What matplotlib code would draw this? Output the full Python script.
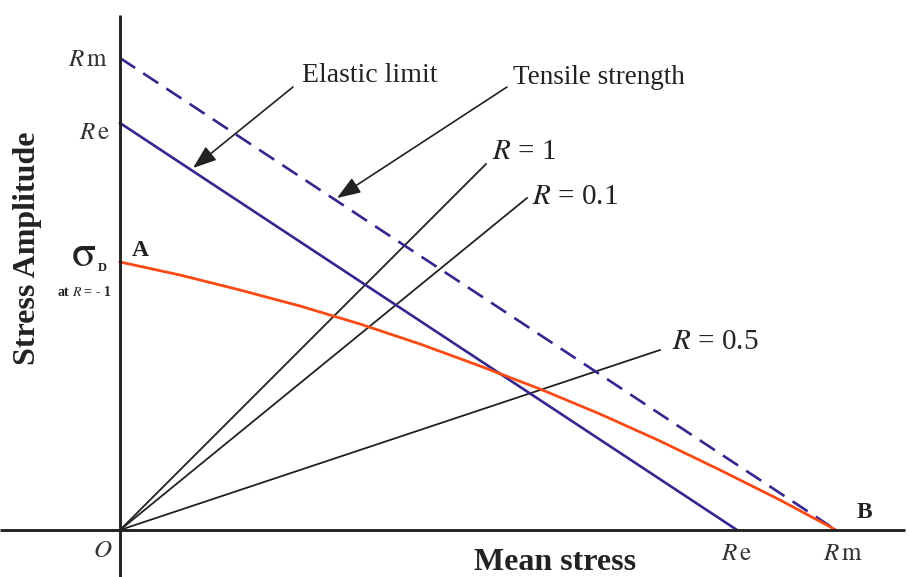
import matplotlib
matplotlib.use("Agg")
import matplotlib.pyplot as plt

plt.rcParams['font.family'] = ['Liberation Serif', 'DejaVu Serif']
plt.rcParams['mathtext.fontset'] = 'stix'
plt.rcParams['lines.scale_dashes'] = False

# Diagram values (mean stress on x, stress amplitude on y)
Rm = 716          # tensile strength
Re = 617          # elastic limit (x intercept)
Rm_y = 472        # tensile strength on amplitude axis
Re_y = 407        # elastic limit on amplitude axis
sigma_D = 268     # fatigue limit at R = -1

# Fatigue limit curve A -> B
curve_x = [0, 60, 120, 180, 240, 300, 360, 420, 480, 540, 600, 660, 716]
curve_y = [268, 255, 240, 224, 206, 186, 164, 141, 116, 89, 60, 30, 0]

# Load-ratio rays from the origin: end points
ray_labels = ['$R$ = 1', '$R$ = 0.1', '$R$ = 0.5']
ray_end_x = [366, 407, 540]
ray_end_y = [366, 332, 180]

BLUE = '#35278f'
RED = '#fb4a16'
INK = '#222222'
GREY = '#333333'

fig = plt.figure(figsize=(9.10, 5.77), dpi=100)
ax = fig.add_axes([0, 0, 1, 1])
ax.set_xlim(-120, 790)
ax.set_ylim(-47, 530)
ax.axis('off')

# Coordinate axes
ax.plot([-120, 785], [0, 0], color=INK, lw=2.1, solid_capstyle='butt', zorder=5)
ax.plot([0, 0], [-47, 515], color=INK, lw=2.1, solid_capstyle='butt', zorder=5)

# Rays
for ex, ey in zip(ray_end_x, ray_end_y):
    ax.plot([0, ex], [0, ey], color=INK, lw=1.3, zorder=3)

# Elastic limit and tensile strength lines
ax.plot([0, Re], [Re_y, 0], color=BLUE, lw=1.9, zorder=4)
ln, = ax.plot([0, Rm], [Rm_y, 0], color=BLUE, lw=1.9, zorder=4)
ln.set_dashes((13, 7))

# Fatigue limit curve
ax.plot(curve_x, curve_y, color=RED, lw=2.0, zorder=4, solid_joinstyle='round')

# Ray labels
ray_text_pos = [(372, 378), (412, 333), (552, 188)]
for lab, (tx, ty) in zip(ray_labels, ray_text_pos):
    ax.text(tx, ty, lab, fontsize=21, color=INK, ha='left', va='center')

# Annotations with arrows
arrow = dict(arrowstyle='-|>,head_length=0.6,head_width=0.22', color=INK, lw=1.2,
             mutation_scale=24, shrinkA=0, shrinkB=0)
ax.annotate('', xy=(73, 362), xytext=(173, 443), arrowprops=arrow)
ax.text(182, 455, 'Elastic limit', fontsize=20, color=INK, ha='left', va='center')
ax.annotate('', xy=(217, 332), xytext=(387, 443), arrowprops=arrow)
ax.text(393, 452, 'Tensile strength', fontsize=19.5, color=INK, ha='left', va='center')

# Axis value labels
ax.text(-12, Rm_y - 2, r'$R\,\mathrm{m}$', fontsize=18, color=GREY, ha='right', va='center')
ax.text(-10, Re_y - 10, r'$R\,\mathrm{e}$', fontsize=18, color=GREY, ha='right', va='center')
ax.text(Re, -24, r'$R\,\mathrm{e}$', fontsize=18, color=GREY, ha='center', va='center')
ax.text(Rm + 7, -24, r'$R\,\mathrm{m}$', fontsize=18, color=GREY, ha='center', va='center')
ax.text(-17, -21, '$O$', fontsize=18, color=GREY, ha='center', va='center')

ax.text(-24, sigma_D + 7, r'$\mathrm{\sigma}$', fontsize=32, color=INK, ha='right', va='center')
ax.text(-22, sigma_D - 6, 'D', fontsize=9, fontweight='bold', color=INK, ha='left', va='center')
ax.text(-8, sigma_D - 30, 'at $\\mathbf{\\mathit{R}}$ = - 1', fontsize=10, fontweight='bold',
        color=INK, ha='right', va='center')

ax.text(12, 280, 'A', fontsize=17, fontweight='bold', color=INK, ha='left', va='center')
ax.text(737, 18, 'B', fontsize=17, fontweight='bold', color=INK, ha='left', va='center')

# Axis titles
ax.text(435, -33, 'Mean stress', fontsize=23, fontweight='bold', color=INK,
        ha='center', va='center')
ax.text(-92, 282, 'Stress Amplitude', fontsize=23, fontweight='bold', color=INK,
        ha='center', va='center', rotation=90)

fig.savefig('out.png', dpi=100)
